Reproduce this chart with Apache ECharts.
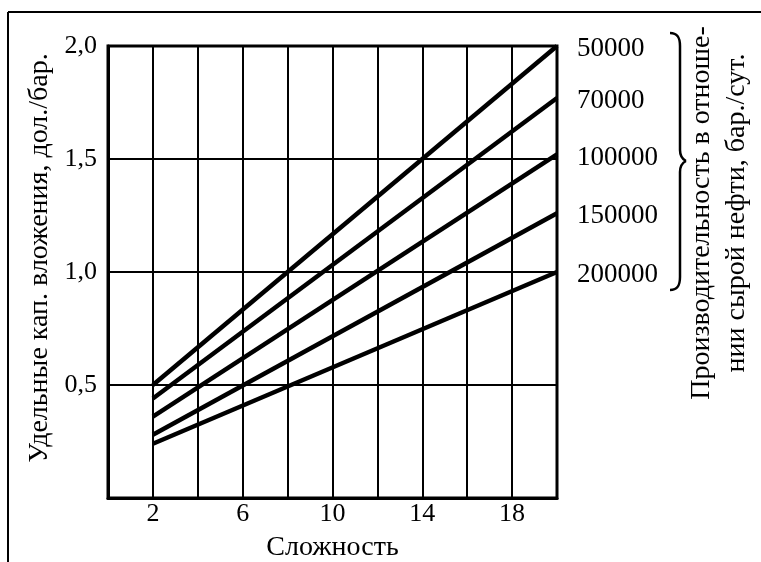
<!DOCTYPE html>
<html>
<head>
<meta charset="utf-8">
<script src="https://cdn.jsdelivr.net/npm/echarts@6/dist/echarts.min.js"></script>
<style>
html,body{margin:0;padding:0;background:#fff;}
#chart{width:761px;height:562px;}
</style>
</head>
<body>
<div id="chart"></div>
<script>
// ---- data ----
const complexity = [2, 20];                       // x positions of line ends
const capacityNames = ['50000', '70000', '100000', '150000', '200000'];
const cost50000  = [0.50, 2.00];
const cost70000  = [0.44, 1.77];
const cost100000 = [0.36, 1.52];
const cost150000 = [0.28, 1.26];
const cost200000 = [0.24, 1.00];
const xTickLabels = [2, 6, 10, 14, 18];
const yTickLabels = ['0,5', '1,0', '1,5', '2,0'];
const yTickValues = [0.5, 1.0, 1.5, 2.0];
const xTitle = 'Сложность';
const yTitle = 'Удельные кап. вложения, дол./бар.';
const rightTitle = 'Производительность в отноше-\nнии сырой нефти, бар./сут.';

const seriesValues = [cost50000, cost70000, cost100000, cost150000, cost200000];
const FONT = '"Liberation Serif", "DejaVu Serif", serif';

const chart = echarts.init(document.getElementById('chart'), null, {renderer: 'canvas'});
const series = seriesValues.map((vals, i) => ({
  name: capacityNames[i],
  type: 'line',
  data: complexity.map((x, j) => [x, vals[j]]),
  symbol: 'none',
  lineStyle: {color: '#000', width: 4.5},
  clip: false,
  endLabel: {
    show: true,
    formatter: capacityNames[i],
    distance: 20,
    offset: [0, 3],
    color: '#000',
    fontFamily: FONT,
    fontSize: 27
  },
  z: 5
}));

const braceStyle = {stroke: '#000', lineWidth: 2.5, fill: null};
chart.setOption({
  animation: false,
  backgroundColor: '#fff',
  grid: {left: 108, top: 46, right: 204, bottom: 64, outerBoundsMode: 'none', containLabel: false,
    show: true, borderColor: '#000', borderWidth: 3, backgroundColor: 'transparent'},
  xAxis: {
    type: 'value', min: 0, max: 20, interval: 2,
    name: xTitle, nameLocation: 'middle', nameGap: 36,
    nameTextStyle: {color: '#000', fontFamily: FONT, fontSize: 28},
    axisLine: {show: true, lineStyle: {color: '#000', width: 3}},
    axisTick: {show: false},
    axisLabel: {color: '#000', fontFamily: FONT, fontSize: 26, margin: 3,
      formatter: v => xTickLabels.includes(v) ? String(v) : ''},
    splitLine: {show: true, lineStyle: {color: '#000', width: 2}}
  },
  yAxis: {
    type: 'value', min: 0, max: 2, interval: 0.5,
    axisLine: {show: true, lineStyle: {color: '#000', width: 3}},
    axisTick: {show: false},
    axisLabel: {color: '#000', fontFamily: FONT, fontSize: 26, margin: 11,
      formatter: v => { const k = yTickValues.indexOf(v); return k >= 0 ? yTickLabels[k] : ''; }},
    splitLine: {show: true, lineStyle: {color: '#000', width: 2}}
  },
  graphic: [
    {type: 'line', shape: {x1: 8, y1: 12, x2: 761, y2: 12}, style: {stroke: '#000', lineWidth: 2}},
    {type: 'line', shape: {x1: 8, y1: 12, x2: 8, y2: 562}, style: {stroke: '#000', lineWidth: 2}},
    {type: 'text', x: 40, y: 258, rotation: Math.PI / 2,
      style: {text: yTitle, fill: '#000', font: '28px ' + FONT, textAlign: 'center', textVerticalAlign: 'middle'}},
    {type: 'text', x: 719, y: 213, rotation: Math.PI / 2,
      style: {text: rightTitle, fill: '#000', font: '28px ' + FONT, textAlign: 'center', textVerticalAlign: 'middle', lineHeight: 35}},
    {type: 'bezierCurve', shape: {x1: 670, y1: 33, cpx1: 678, cpy1: 33, cpx2: 680, cpy2: 38, x2: 680, y2: 46}, style: braceStyle},
    {type: 'line', shape: {x1: 680, y1: 46, x2: 680, y2: 150}, style: braceStyle},
    {type: 'bezierCurve', shape: {x1: 680, y1: 150, cpx1: 680, cpy1: 156, cpx2: 682, cpy2: 159, x2: 686, y2: 161}, style: braceStyle},
    {type: 'bezierCurve', shape: {x1: 686, y1: 161, cpx1: 682, cpy1: 163, cpx2: 680, cpy2: 166, x2: 680, y2: 172}, style: braceStyle},
    {type: 'line', shape: {x1: 680, y1: 172, x2: 680, y2: 277}, style: braceStyle},
    {type: 'bezierCurve', shape: {x1: 680, y1: 277, cpx1: 680, cpy1: 285, cpx2: 678, cpy2: 290, x2: 670, y2: 290}, style: braceStyle}
  ],
  series: series
});
</script>
</body>
</html>
